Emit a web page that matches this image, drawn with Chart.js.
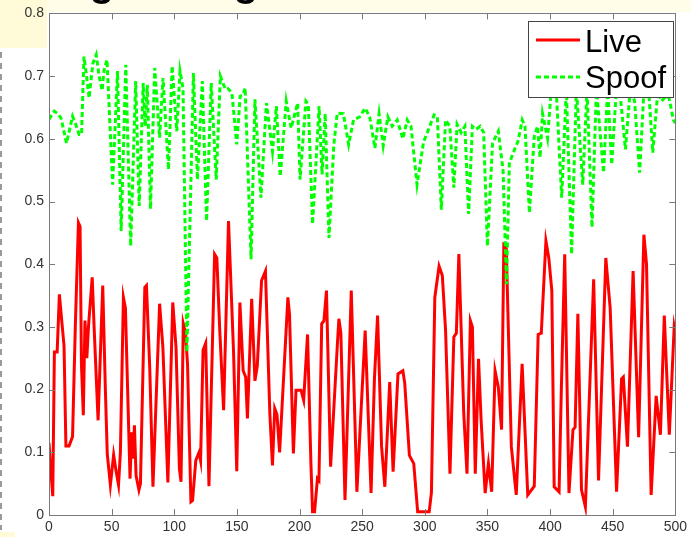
<!DOCTYPE html>
<html>
<head>
<meta charset="utf-8">
<script src="https://cdn.jsdelivr.net/npm/chart.js@4"></script>
<style>
  html, body { margin: 0; padding: 0; background: #ffffff; }
  #wrap { width: 691px; height: 537px; position: relative; }
</style>
</head>
<body>
<div id="wrap"><canvas id="c" width="691" height="537"></canvas></div>
<script>
// ---- Data ----
const xTicks = [0, 50, 100, 150, 200, 250, 300, 350, 400, 450, 500];
const yTicks = [0, 0.1, 0.2, 0.3, 0.4, 0.5, 0.6, 0.7, 0.8];
const seriesNames = ['Live', 'Spoof'];

const liveX = [0, 1.5, 3, 4.3, 6.5, 8.3, 10.4, 12, 13.5, 16, 18.8, 21, 23.5, 24.8, 25.9, 27.4, 28.7, 30.2, 31.5, 34.5, 36, 39.2, 42.9, 45, 46.5, 49, 51.6, 53.4, 55.5, 57, 59.4, 61, 64.7, 66, 67, 68.2, 69.5, 71.8, 73, 76.5, 77.8, 80.4, 83, 88.3, 90.9, 94.9, 98.8, 101.4, 104.1, 105.4, 107.2, 109, 110.6, 113.3, 114.6, 117.2, 119.8, 121, 123, 125.1, 127.7, 132.2, 134, 136.3, 139.4, 143.3, 147.3, 149.9, 152.4, 155, 157, 158.4, 161.8, 164.4, 166.3, 169.7, 172.8, 176.3, 178.4, 180.2, 182, 184.1, 190.7, 192, 195.1, 197.2, 201.2, 203.3, 206.4, 209.1, 210.4, 212, 214.3, 215.5, 217.7, 219.5, 221.5, 224.8, 230.1, 231.4, 233, 236.3, 241.3, 245.8, 252.4, 257.1, 259.8, 262.3, 265.5, 268.1, 272, 274.7, 278.6, 282.5, 284, 287.7, 291.2, 294.3, 303.5, 305.3, 308, 311.4, 314, 316.6, 320.1, 323.2, 325.2, 327.2, 331.1, 333.7, 336.4, 338, 340.3, 342.9, 345, 348.2, 350.8, 353.4, 356.1, 358.7, 361.3, 363.1, 365, 369.1, 373, 377.7, 382.2, 387.4, 390.5, 393, 396.7, 399, 401.4, 403.3, 407.2, 409, 411.7, 415.1, 418.3, 420, 422.2, 425.1, 428.2, 434.8, 438.7, 444.5, 448, 453.1, 457.1, 458.5, 461.8, 466.3, 470.7, 474.9, 477, 480.7, 484.7, 488.1, 491.2, 495.2, 499.1, 500];
const liveY = [0.115, 0.07, 0.03, 0.26, 0.26, 0.352, 0.305, 0.27, 0.11, 0.11, 0.125, 0.3, 0.466, 0.46, 0.24, 0.159, 0.31, 0.25, 0.3, 0.379, 0.3, 0.151, 0.366, 0.2, 0.098, 0.048, 0.096, 0.072, 0.048, 0.1, 0.347, 0.33, 0.058, 0.132, 0.09, 0.143, 0.063, 0.04, 0.05, 0.363, 0.366, 0.236, 0.045, 0.337, 0.268, 0.052, 0.339, 0.268, 0.074, 0.053, 0.305, 0.29, 0.24, 0.021, 0.023, 0.087, 0.1, 0.087, 0.263, 0.274, 0.046, 0.416, 0.41, 0.295, 0.167, 0.469, 0.262, 0.07, 0.339, 0.23, 0.22, 0.154, 0.345, 0.214, 0.238, 0.374, 0.389, 0.162, 0.079, 0.17, 0.16, 0.1, 0.347, 0.32, 0.098, 0.199, 0.199, 0.183, 0.288, 0.082, 0.005, 0.005, 0.058, 0.055, 0.305, 0.31, 0.358, 0.077, 0.268, 0.313, 0.29, 0.024, 0.358, 0.037, 0.294, 0.035, 0.217, 0.318, 0.109, 0.045, 0.212, 0.069, 0.225, 0.23, 0.21, 0.095, 0.082, 0.005, 0.005, 0.036, 0.347, 0.397, 0.382, 0.294, 0.066, 0.284, 0.29, 0.416, 0.162, 0.066, 0.31, 0.3, 0.066, 0.249, 0.15, 0.035, 0.082, 0.037, 0.23, 0.204, 0.136, 0.432, 0.43, 0.109, 0.032, 0.241, 0.032, 0.046, 0.288, 0.29, 0.437, 0.41, 0.358, 0.045, 0.037, 0.2, 0.416, 0.035, 0.136, 0.14, 0.321, 0.04, 0.013, 0.376, 0.055, 0.41, 0.33, 0.037, 0.217, 0.22, 0.109, 0.389, 0.124, 0.447, 0.4, 0.032, 0.19, 0.128, 0.318, 0.128, 0.3, 0.29];

const spoofX = [0, 4.3, 7, 9.6, 14, 18.8, 21, 24, 26, 27.9, 30, 32, 35, 37.7, 40, 42.4, 44, 46.3, 50.8, 54.7, 57.6, 61.3, 65.2, 69.2, 72, 75.2, 76.8, 78.5, 81, 84.4, 88.3, 91, 95.4, 98.3, 102, 104.6, 107, 110.1, 115.3, 118.5, 122.4, 125.8, 129.5, 133.5, 136.8, 140.8, 143, 146, 149.9, 152.6, 155, 156.6, 161.3, 164.4, 169.2, 173.6, 178.4, 181.5, 184.6, 189.4, 193.3, 198.5, 200.4, 205.1, 207, 210.4, 215.6, 218, 220.5, 223.5, 227.4, 230.1, 235, 239.2, 243.1, 248, 252.4, 256, 260.2, 263.5, 266.8, 270.5, 274, 278, 282.5, 286, 289, 293.8, 299, 302, 307.4, 310, 313.2, 316.6, 320, 323.2, 325.8, 329, 332, 335, 338, 341, 344.2, 347, 350, 354.1, 358.7, 362.5, 365.2, 367.5, 370, 374.4, 377.8, 380, 383.5, 387.4, 390, 392, 394, 398, 401, 405, 409.3, 413, 417.2, 421, 426.1, 429.5, 433.5, 437, 442.7, 446, 449.2, 453, 456, 460.2, 464, 467.5, 471.5, 475, 479, 482, 486, 489, 492.5, 495, 498.5, 500];
const spoofY = [0.631, 0.644, 0.64, 0.633, 0.593, 0.636, 0.625, 0.607, 0.607, 0.731, 0.7, 0.665, 0.72, 0.734, 0.7, 0.677, 0.71, 0.726, 0.527, 0.708, 0.453, 0.718, 0.429, 0.692, 0.493, 0.689, 0.62, 0.686, 0.488, 0.713, 0.602, 0.697, 0.551, 0.716, 0.612, 0.708, 0.68, 0.26, 0.705, 0.535, 0.692, 0.469, 0.689, 0.535, 0.7, 0.679, 0.68, 0.673, 0.591, 0.668, 0.67, 0.681, 0.408, 0.663, 0.506, 0.657, 0.58, 0.652, 0.54, 0.66, 0.617, 0.657, 0.535, 0.66, 0.655, 0.464, 0.652, 0.543, 0.64, 0.442, 0.591, 0.641, 0.64, 0.591, 0.63, 0.635, 0.649, 0.635, 0.585, 0.64, 0.589, 0.635, 0.62, 0.63, 0.6, 0.63, 0.62, 0.527, 0.595, 0.61, 0.638, 0.636, 0.487, 0.63, 0.62, 0.522, 0.623, 0.61, 0.62, 0.48, 0.62, 0.615, 0.62, 0.61, 0.429, 0.593, 0.612, 0.549, 0.368, 0.56, 0.575, 0.596, 0.63, 0.62, 0.482, 0.604, 0.62, 0.57, 0.64, 0.601, 0.68, 0.675, 0.506, 0.68, 0.416, 0.68, 0.527, 0.68, 0.459, 0.68, 0.546, 0.68, 0.559, 0.68, 0.67, 0.583, 0.68, 0.66, 0.546, 0.68, 0.67, 0.578, 0.675, 0.66, 0.668, 0.665, 0.63, 0.625];

const live = liveX.map((x, i) => ({ x, y: liveY[i] }));
const spoof = spoofX.map((x, i) => ({ x, y: spoofY[i] }));

const AXIS_COLOR = '#7a7a7a';
const TEXT_COLOR = '#333333';
const FONT = "'Liberation Sans', Arial, Helvetica, sans-serif";

const backgroundPlugin = {
  id: 'bg',
  beforeDraw(chart) {
    const c = chart.ctx;
    c.save();
    c.fillStyle = '#ffffff';
    c.fillRect(0, 0, chart.width, chart.height);
    // slide remnants
    c.fillStyle = '#fffde8';
    c.fillRect(0, 0, chart.width, 12);
    c.fillStyle = '#fffad8';
    c.fillRect(0, 0, 47, 48);
    c.fillRect(0, 532, 15, 5);
    c.strokeStyle = '#9a9a9a';
    c.lineWidth = 2;
    c.setLineDash([6, 5]);
    c.beginPath();
    c.moveTo(1, 52);
    c.lineTo(1, 530);
    c.stroke();
    c.setLineDash([]);
    c.fillStyle = '#000000';
    c.font = "bold 40px " + FONT;
    c.textAlign = 'center';
    c.textBaseline = 'alphabetic';
    c.fillText('g', 102, -4);
    c.fillText('g', 246, -4);
    c.restore();
  }
};

const framePlugin = {
  id: 'frame',
  afterDatasetsDraw(chart) {
    const c = chart.ctx;
    const a = chart.chartArea;
    const xs = chart.scales.x, ys = chart.scales.y;
    c.save();
    c.strokeStyle = AXIS_COLOR;
    c.lineWidth = 1;
    c.strokeRect(Math.round(a.left) + 0.5, Math.round(a.top) + 0.5,
                 Math.round(a.right - a.left), Math.round(a.bottom - a.top));
    const TL = 6;
    c.beginPath();
    xTicks.forEach(v => {
      const px = Math.round(xs.getPixelForValue(v)) + 0.5;
      c.moveTo(px, a.bottom); c.lineTo(px, a.bottom - TL);
      c.moveTo(px, a.top); c.lineTo(px, a.top + TL);
    });
    yTicks.forEach(v => {
      const py = Math.round(ys.getPixelForValue(v)) + 0.5;
      c.moveTo(a.left, py); c.lineTo(a.left + TL, py);
      c.moveTo(a.right, py); c.lineTo(a.right - TL, py);
    });
    c.stroke();

    // legend box (inside the axes, MATLAB style)
    const bx = 528.5, by = 21.5, bw = 145, bh = 76;
    c.fillStyle = '#ffffff';
    c.fillRect(bx, by, bw, bh);
    c.strokeStyle = '#444444';
    c.strokeRect(bx, by, bw, bh);
    const ds = chart.data.datasets;
    c.strokeStyle = ds[0].borderColor;
    c.lineWidth = 3;
    c.beginPath(); c.moveTo(536, 40); c.lineTo(580, 40); c.stroke();
    c.strokeStyle = ds[1].borderColor;
    c.setLineDash([5, 3]);
    c.beginPath(); c.moveTo(536, 77); c.lineTo(580, 77); c.stroke();
    c.setLineDash([]);
    c.fillStyle = '#000000';
    c.font = "31px " + FONT;
    c.textAlign = 'left';
    c.textBaseline = 'alphabetic';
    c.fillText(ds[0].label, 585, 52);
    c.fillText(ds[1].label, 585, 88);
    c.restore();
  }
};

new Chart(document.getElementById('c'), {
  type: 'line',
  data: {
    datasets: [
      { label: seriesNames[0], data: live, borderColor: '#ff0000', borderWidth: 3,
        pointRadius: 0, tension: 0, fill: false, order: 2 },
      { label: seriesNames[1], data: spoof, borderColor: '#00ff00', borderWidth: 3,
        borderDash: [5, 3], pointRadius: 0, tension: 0, fill: false, order: 1 }
    ]
  },
  options: {
    responsive: false,
    animation: false,
    devicePixelRatio: 1,
    layout: { padding: { top: 12, right: 7, left: 0, bottom: 0 } },
    plugins: { legend: { display: false }, tooltip: { enabled: false } },
    scales: {
      x: {
        type: 'linear', min: 0, max: 500,
        afterBuildTicks: s => { s.ticks = xTicks.map(v => ({ value: v })); },
        afterFit: s => { s.height = 22; },
        grid: { display: false, drawTicks: false },
        border: { display: false },
        ticks: { font: { family: FONT, size: 14 }, color: TEXT_COLOR, padding: 4,
                 maxRotation: 0, autoSkip: false }
      },
      y: {
        type: 'linear', min: 0, max: 0.8,
        afterBuildTicks: s => { s.ticks = yTicks.map(v => ({ value: v })); },
        afterFit: s => { s.width = 49; },
        grid: { display: false, drawTicks: false },
        border: { display: false },
        ticks: { font: { family: FONT, size: 14 }, color: TEXT_COLOR, padding: 5,
                 autoSkip: false, callback: v => String(+v.toFixed(1)) }
      }
    }
  },
  plugins: [backgroundPlugin, framePlugin]
});
</script>
</body>
</html>
